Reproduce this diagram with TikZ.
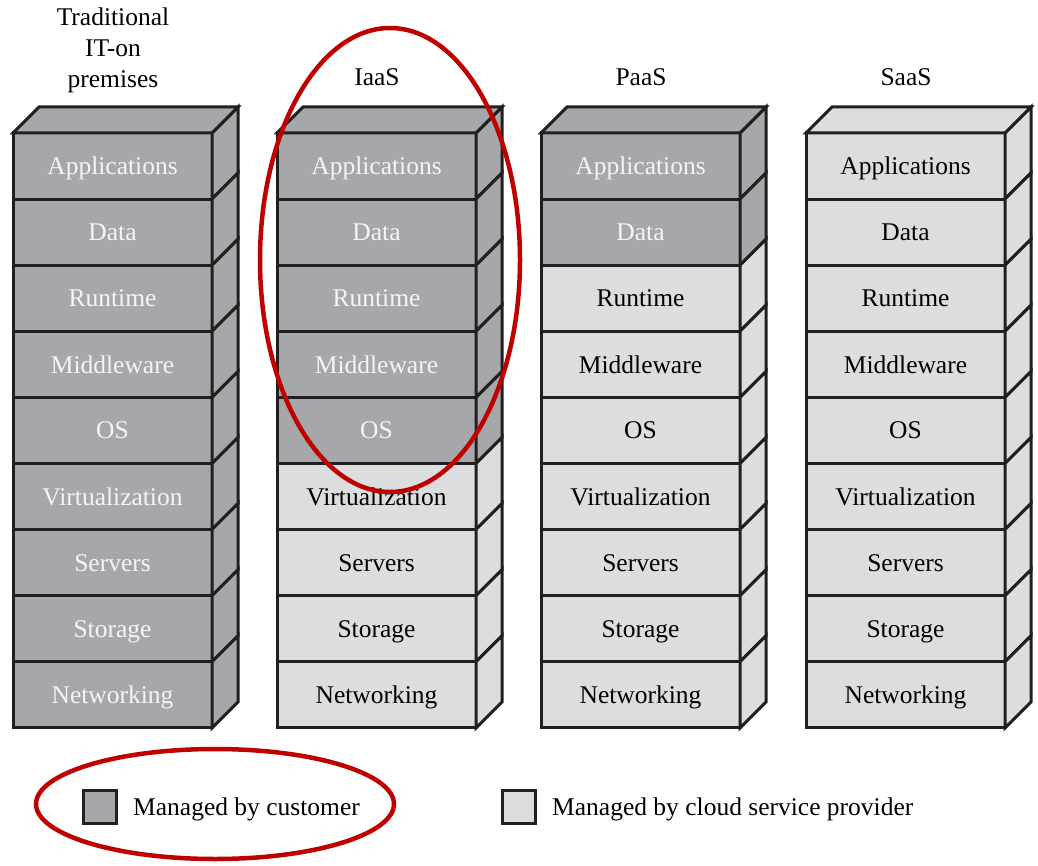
\documentclass[tikz,border=0pt]{standalone}
\usepackage{fontspec}
\setmainfont{Liberation Serif}
\definecolor{custgray}{HTML}{A6A7AA}
\definecolor{provgray}{HTML}{DCDDDF}
\definecolor{lineblack}{HTML}{231F20}
\definecolor{custtext}{HTML}{F4F4F4}
\definecolor{ringred}{RGB}{190,0,0}
\begin{document}
\begin{tikzpicture}[x=1pt,y=-1pt,font=\fontsize{25.5}{31}\selectfont,
  edge/.style={draw=lineblack,line width=3pt},
  layer/.style={edge,minimum width=199pt,minimum height=66.1pt,inner sep=0pt,outer sep=0pt,anchor=north west,text depth=0pt},
  cust/.style={fill=custgray,text=custtext},
  prov/.style={fill=provgray,text=black},
  title/.style={align=center,inner sep=0pt},
  ring/.style={draw=ringred,line width=4.5pt},
  swatch/.style={edge,minimum size=33pt,inner sep=0pt,outer sep=0pt},
  legtext/.style={anchor=west,inner sep=0pt}]
\useasboundingbox (0,0) rectangle (1038,866);
\foreach \c/\L/\n in {trad/13/9,iaas/277/5,paas/541/2,saas/806/0} {
  \foreach \t [count=\i from 0] in {Applications,Data,Runtime,Middleware,OS,Virtualization,Servers,Storage,Networking} {
    \pgfmathsetmacro\yy{133+66.1*\i}
    \ifnum\i<\n \tikzset{cur/.style={cust}}\else\tikzset{cur/.style={prov}}\fi
    \node[layer,cur] (\c-\i) at (\L,\yy) {\t};
    \path[edge,cur] (\c-\i.north east) -- ++(26,-26) -- ([shift={(26,-26)}]\c-\i.south east) -- (\c-\i.south east) -- cycle;
  }
  \ifnum\n>0 \tikzset{cur/.style={cust}}\else\tikzset{cur/.style={prov}}\fi
  \path[edge,cur] (\c-0.north west) -- ++(26,-26) -- ([shift={(26,-26)}]\c-0.north east) -- (\c-0.north east) -- cycle;
}
\node[title] (t-trad) at (113,50) {Traditional\\IT-on\\premises};
\node[title] (t-iaas) at (377,77) {IaaS};
\node[title] (t-paas) at (641,77) {PaaS};
\node[title] (t-saas) at (906,77) {SaaS};
\node[swatch,fill=custgray] (lg-cust) at (99.5,806.5) {};
\node[legtext] (lt-cust) at (133,809) {Managed by customer};
\node[swatch,fill=provgray] (lg-prov) at (518.5,806.5) {};
\node[legtext] (lt-prov) at (552,809) {Managed by cloud service provider};
\draw[ring] (390,260) ellipse [x radius=130,y radius=232];
\draw[ring] (215,804) ellipse [x radius=179,y radius=55];
\end{tikzpicture}
\end{document}
